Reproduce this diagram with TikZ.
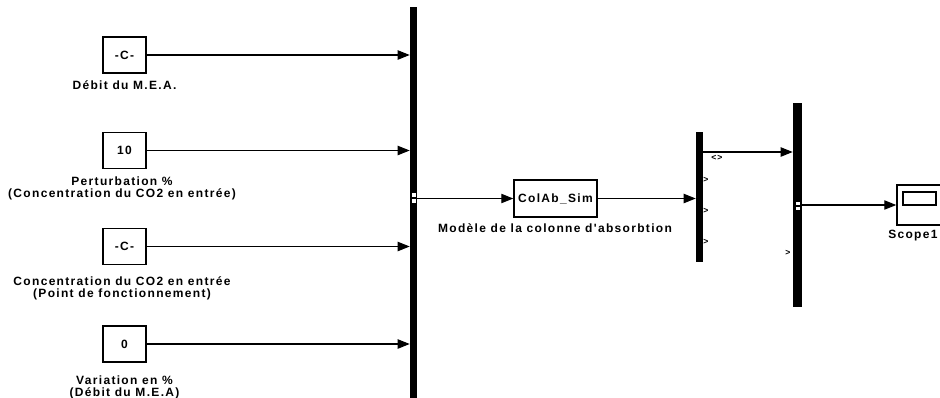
\documentclass[tikz,border=0pt]{standalone}
\usepackage{fontspec}
\setmainfont{Liberation Sans}
\newfontfamily\lblfont[LetterSpace=11]{Liberation Sans Bold}
\usetikzlibrary{arrows.meta}
\begin{document}
\begin{tikzpicture}[x=0.75pt,y=-0.75pt,
  blk/.style={draw,line width=1.1pt,minimum width=32.25pt,minimum height=27pt,inner sep=0pt,font=\lblfont\fontsize{9}{9}\selectfont},
  lbl/.style={font=\lblfont\fontsize{9}{9}\selectfont,align=center,inner sep=0pt},
  tiny/.style={font=\lblfont\fontsize{6.5}{7}\selectfont,inner sep=0pt},
  bar/.style={fill=black,draw=none,inner sep=0pt,minimum width=5.25pt},
  sig/.style={line width=0.8pt,-{Triangle[length=9pt,width=7pt]}}]
\useasboundingbox (0,0) rectangle (940,397);
\clip (0,0) rectangle (940,397);
% constant blocks
\node[blk] (c1) at (124.5,55) {-C-};
\node[blk] (c2) at (124.5,150.5) {10};
\node[blk] (c3) at (124.5,246.5) {-C-};
\node[blk] (c4) at (124.5,344) {0};
% labels
\node[lbl] (l1) at (124.5,85) {Débit du M.E.A.};
\node[lbl] (l2) at (122,188) {Perturbation \%\\(Concentration du CO2 en entrée)};
\node[lbl] (l3) at (122,288) {Concentration du CO2 en entrée\\(Point de fonctionnement)};
\node[lbl] (l4) at (124.5,387) {Variation en \%\\(Débit du M.E.A)};
% mux bars
\node[bar,minimum height=294.75pt] (mux1) at (413.5,203.5) {};
\node[bar,minimum height=97.5pt] (mux2) at (699.5,197) {};
\node[bar,minimum width=6.75pt,minimum height=153pt] (mux3) at (797.5,205) {};
\fill[white] (412,193) rectangle (415.5,196.5);
\fill[white] (412,199) rectangle (415.5,202.5);
\fill[white] (796,201.5) rectangle (800,204.5);
\fill[white] (796,206.5) rectangle (800,209.5);
% subsystem
\node[draw,line width=1.1pt,minimum width=62.25pt,minimum height=27.75pt,inner sep=0pt,font=\lblfont\fontsize{9}{9}\selectfont] (colab) at (555.5,198.5) {ColAb\_Sim};
\node[lbl] (lcolab) at (555,228) {Modèle de la colonne d'absorbtion};
% scope
\node[draw,line width=1.1pt,minimum width=33pt,minimum height=30pt,inner sep=0pt] (scope) at (919,205) {};
\node[draw,line width=0.9pt,minimum width=24.75pt,minimum height=9.75pt,inner sep=0pt] (screen) at (919.5,198.5) {};
\node[lbl,anchor=west] (lscope) at (888,236) {Scope1};
% port marks
\node[tiny] (p0) at (717,158) {<>};
\node[tiny] (p1) at (706,180) {>};
\node[tiny] (p2) at (706,211) {>};
\node[tiny] (p3) at (706,242) {>};
\node[tiny] (p4) at (788,253) {>};
% connectors
\draw[sig] (c1.east) -- (c1.east -| mux1.west);
\draw[sig] (c2.east) -- (c2.east -| mux1.west);
\draw[sig] (c3.east) -- (c3.east -| mux1.west);
\draw[sig] (c4.east) -- (c4.east -| mux1.west);
\draw[sig] (mux1.east |- colab.west) -- (colab.west);
\draw[sig] (colab.east) -- (colab.east -| mux2.west);
\coordinate (t2) at (0,152);
\draw[sig] (mux2.east |- t2) -- (mux3.west |- t2);
\draw[sig] (mux3.east |- scope.west) -- (scope.west);
\end{tikzpicture}
\end{document}
